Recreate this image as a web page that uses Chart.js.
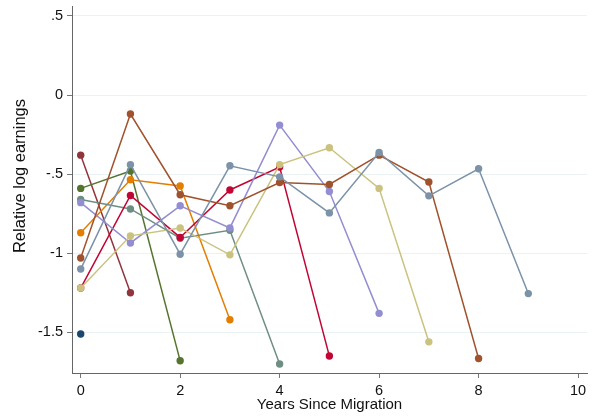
<!DOCTYPE html>
<html>
<head>
<meta charset="utf-8">
<script src="https://cdn.jsdelivr.net/npm/chart.js@4.4.0/dist/chart.umd.min.js"></script>
<style>
  body { margin: 0; background: #fff; }
  canvas { display: block; }
</style>
</head>
<body>
<canvas id="chart" width="599" height="416"></canvas>
<script>
// Data (x = years since migration)
const years = [0, 1, 2, 3, 4, 5, 6, 7, 8, 9];
const navy = [-1.51];
const maroon = [-0.38, -1.25];
const forestGreen = [-0.59, -0.48, -1.68];
const dkOrange = [-0.87, -0.535, -0.575, -1.42];
const teal = [-0.66, -0.72, -0.905, -0.855, -1.70];
const cranberry = [-1.22, -0.635, -0.90, -0.60, -0.455, -1.65];
const lavender = [-0.68, -0.935, -0.70, -0.84, -0.19, -0.61, -1.38];
const khaki = [-1.22, -0.89, -0.84, -1.01, -0.44, -0.333, -0.59, -1.56];
const sienna = [-1.03, -0.12, -0.63, -0.70, -0.553, -0.565, -0.38, -0.55, -1.665];
const midBlue = [-1.10, -0.44, -1.006, -0.447, -0.517, -0.745, -0.363, -0.637, -0.466, -1.255];

const yTicks = [-1.5, -1, -0.5, 0, 0.5];
const xTicks = [0, 2, 4, 6, 8, 10];
const xTitle = 'Years Since Migration';
const yTitle = 'Relative log earnings';

// Stata s2color order
const seriesList = [navy, maroon, forestGreen, dkOrange, teal, cranberry, lavender, khaki, sienna, midBlue];
const colors = ['#1a476f', '#90353b', '#55752f', '#e37e00', '#6e8e84', '#c10534', '#938dd2', '#cac27e', '#a0522d', '#7b92a8'];

const datasets = seriesList.map((vals, i) => ({
  data: vals.map((v, k) => ({ x: years[k], y: v })),
  borderColor: colors[i],
  backgroundColor: colors[i],
  pointBackgroundColor: colors[i],
  pointBorderColor: colors[i],
  borderWidth: 1.5,
  pointRadius: 3.7,
  pointBorderWidth: 0,
  tension: 0,
  order: seriesList.length - i
}));

function yLabel(v) {
  if (v === 0) return '0';
  let s = String(Math.abs(v));
  if (s.startsWith('0.')) s = s.slice(1);
  return (v < 0 ? '-' : '') + s;
}

const family = "'Liberation Sans', Arial, sans-serif";
const tickFont = { family, size: 14.5 };

// y title drawn by hand so it can sit where Stata puts it
const yTitlePlugin = {
  id: 'yTitle',
  afterDraw(chart) {
    const ctx = chart.ctx;
    ctx.save();
    ctx.font = `16.5px ${family}`;
    ctx.fillStyle = '#111';
    ctx.textAlign = 'center';
    ctx.textBaseline = 'middle';
    ctx.translate(20, 176);
    ctx.rotate(-Math.PI / 2);
    ctx.fillText(yTitle, 0, 0);
    ctx.restore();
  }
};

new Chart(document.getElementById('chart').getContext('2d'), {
  type: 'line',
  data: { datasets },
  plugins: [yTitlePlugin],
  options: {
    responsive: false,
    animation: false,
    layout: { padding: { left: 0, right: 12, top: 6, bottom: 0 } },
    plugins: {
      legend: { display: false },
      tooltip: { enabled: false }
    },
    scales: {
      x: {
        type: 'linear',
        min: -0.175,
        max: 10.18,
        afterBuildTicks: s => { s.ticks = xTicks.map(v => ({ value: v })); },
        afterFit: s => { s.height = 43; s.paddingLeft = 0; s.paddingRight = 0; },
        grid: { drawOnChartArea: false, drawTicks: true, tickLength: 5, color: '#777' },
        border: { color: '#666', width: 1 },
        ticks: { font: tickFont, color: '#111', padding: 4, maxRotation: 0 },
        title: {
          display: true,
          text: xTitle,
          font: { family, size: 15 },
          color: '#111',
          padding: { top: 0, bottom: 2 }
        }
      },
      y: {
        type: 'linear',
        min: -1.757,
        max: 0.563,
        afterBuildTicks: s => { s.ticks = yTicks.map(v => ({ value: v })); },
        afterFit: s => { s.width = 72; s.paddingTop = 0; s.paddingBottom = 0; },
        grid: {
          color: '#eaf2f3',
          tickColor: '#777',
          tickLength: 5,
          drawTicks: true
        },
        border: { color: '#666', width: 1 },
        ticks: { font: tickFont, color: '#111', padding: 4, callback: v => yLabel(v) }
      }
    }
  }
});
</script>
</body>
</html>
